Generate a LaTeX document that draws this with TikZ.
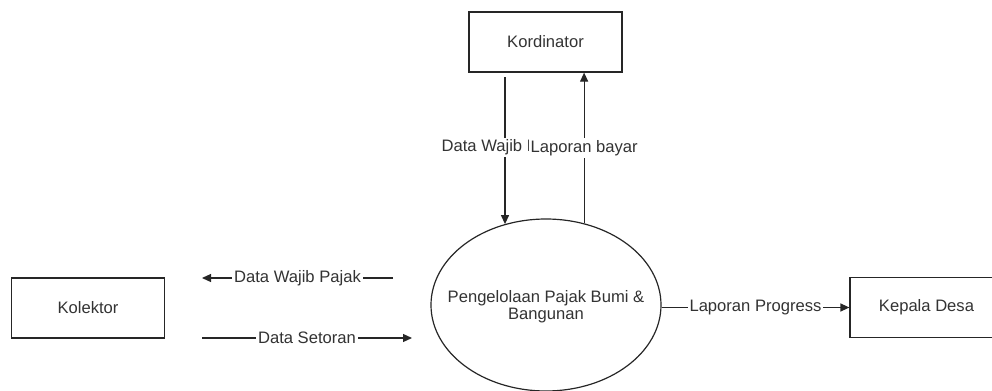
\documentclass[tikz,border=0pt]{standalone}
\usepackage{fontspec}
\setmainfont{Liberation Sans}
\usetikzlibrary{arrows.meta,shapes.geometric}
\definecolor{inkc}{gray}{0.15}
\definecolor{txtc}{gray}{0.2}
\begin{document}
\begin{tikzpicture}[x=0.5pt,y=-0.5pt,
  every node/.style={font=\fontsize{8.3}{8.6}\selectfont, text=txtc},
  entity/.style={draw=inkc, line width=0.6pt, rectangle, minimum width=76.5pt, minimum height=30pt, inner sep=0pt},
  proc/.style={draw=inkc, line width=0.6pt, ellipse, minimum width=115pt, minimum height=86pt, inner sep=0pt},
  flow/.style={draw=inkc, line width=0.6pt, -{Triangle[length=4.5pt,width=4pt]}},
  lbl/.style={fill=white, inner sep=1pt}]
\useasboundingbox (0,0) rectangle (992,391);
% nodes
\node[entity] (kord) at (545.5,42) {Kordinator};
\node[entity] (kol) at (88,308) {Kolektor};
\node[entity] (kep) at (926.5,307.5) {Kepala Desa};
\node[proc] (proc) at (546,305) {};
\node[align=center] (proctext) at (546,307) {Pengelolaan Pajak Bumi \&\\Bangunan};
% free connector ends
\coordinate (dwtop) at (505,77);
\coordinate (dwpA) at (393,278);
\coordinate (dwpB) at (202,278);
\coordinate (dsA) at (202,338);
\coordinate (dsB) at (412,338);
% connectors
\draw[flow] (dwtop) -- (proc.117 -| dwtop) node[lbl, pos=0.48] {Data Wajib Pajak};
\draw[flow] (proc.65) -- (proc.65 |- kord.south) node[lbl, pos=0.5] {Laporan bayar};
\draw[flow] (dwpA) -- (dwpB) node[lbl, midway] {Data Wajib Pajak};
\draw[flow] (dsA) -- (dsB) node[lbl, midway] {Data Setoran};
\draw[flow] (proc.east |- kep.west) -- (kep.west) node[lbl, midway] {Laporan Progress};
\end{tikzpicture}
\end{document}
